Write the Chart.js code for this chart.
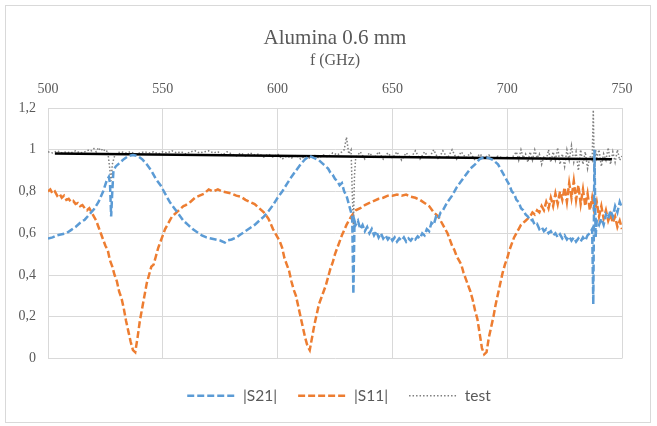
<!DOCTYPE html>
<html>
<head>
<meta charset="utf-8">
<script src="https://cdn.jsdelivr.net/npm/chart.js@4"></script>
<style>
  body { margin: 0; background: #fff; }
  #wrap { position: relative; width: 657px; height: 426px; }
</style>
</head>
<body>
<div id="wrap"><canvas id="sChart"></canvas></div>
<script>
// measured transmission / reflection vs frequency (GHz)
const s21Points = [
  [500,0.575],[502,0.58],[504,0.59],[506,0.595],[508,0.60],[510,0.615],[512,0.63],[514,0.65],[516,0.665],[518,0.69],
  [520,0.715],[522,0.75],[524,0.80],[525.5,0.85],[526.5,0.87],[527,0.84],[527.5,0.68],[528,0.80],[528.5,0.90],[529.5,0.92],
  [531,0.935],[533,0.955],[535,0.97],[537,0.975],[539,0.97],[541,0.955],[543,0.93],[545,0.90],[547,0.86],[549,0.83],
  [551,0.79],[553,0.75],[555,0.72],[557,0.69],[559,0.66],[561,0.64],[563,0.62],[565,0.605],[567,0.59],[569,0.58],
  [571,0.575],[573,0.57],[575,0.565],[577,0.555],[578,0.565],[580,0.57],[582,0.58],[584,0.595],[586,0.61],[588,0.625],
  [590,0.64],[592,0.66],[594,0.68],[596,0.705],[598,0.735],[600,0.77],[602,0.80],[604,0.835],[606,0.87],[608,0.90],
  [610,0.93],[612,0.955],[614,0.97],[616,0.96],[618,0.95],[620,0.93],[622,0.91],[623,0.89],[624,0.88],[625,0.86],
  [626,0.85],[627,0.83],[628,0.84],[629,0.80],[630,0.78],[631,0.74],[632,0.70],[632.5,0.67],[633,0.31],[633.5,0.66],
  [634,0.64],[635,0.66],[636,0.62],[637,0.64],[638,0.61],[639,0.63],[640,0.60],[641,0.62],[642,0.59],[643,0.61],
  [644,0.58],[645,0.60],[646,0.575],[647,0.59],[648,0.57],[649,0.585],[650,0.565],[651,0.58],[652,0.56],[653,0.575],
  [654,0.565],[655,0.58],[656,0.56],[657,0.575],[658,0.565],[659,0.58],[660,0.57],[661,0.585],[662,0.575],[663,0.60],
  [664,0.59],[665,0.62],[666,0.61],[667,0.65],[668,0.64],[669,0.68],[670,0.67],[671,0.70],[672,0.71],[674,0.75],
  [676,0.78],[678,0.82],[680,0.85],[682,0.88],[684,0.91],[686,0.93],[688,0.955],[690,0.965],[692,0.96],[694,0.95],
  [696,0.93],[698,0.89],[700,0.85],[701,0.83],[702,0.80],[703,0.79],[704,0.76],[705,0.75],[706,0.72],[707,0.71],
  [708,0.69],[709,0.68],[710,0.66],[711,0.665],[712,0.64],[713,0.645],[714,0.62],[715,0.63],[716,0.61],[717,0.62],
  [718,0.60],[719,0.61],[720,0.59],[721,0.60],[722,0.58],[723,0.595],[724,0.575],[725,0.59],[726,0.57],[727,0.585],
  [728,0.565],[729,0.58],[730,0.56],[731,0.575],[732,0.56],[733,0.58],[734,0.565],[735,0.59],[736,0.60],[737,0.62],
  [737.5,0.26],[738,1.0],[738.5,0.58],[739,0.66],[740,0.64],[741,0.67],[742,0.64],[743,0.69],[744,0.67],[745,0.71],
  [746,0.68],[747,0.73],[748,0.70],[749,0.75],[750,0.72]
];

const s11Points = [
  [500,0.80],[501,0.81],[502,0.79],[503,0.80],[504,0.78],[505,0.79],[506,0.77],[507,0.78],[508,0.76],[509,0.765],
  [510,0.75],[511,0.755],[512,0.74],[513,0.745],[514,0.73],[515,0.735],[516,0.72],[517,0.71],[518,0.72],[519,0.70],
  [520,0.68],[521,0.66],[522,0.63],[523,0.60],[524,0.57],[525,0.54],[526,0.52],[527,0.47],[528,0.44],[529,0.40],
  [530,0.37],[531,0.32],[532,0.29],[533,0.24],[534,0.18],[535,0.13],[536,0.08],[537,0.04],[538,0.03],[539,0.10],
  [540,0.18],[541,0.24],[542,0.30],[543,0.36],[544,0.40],[545,0.44],[546,0.45],[547,0.49],[548,0.53],[549,0.56],
  [550,0.59],[551,0.62],[552,0.64],[553,0.66],[554,0.68],[555,0.69],[556,0.70],[557,0.71],[558,0.72],[559,0.73],
  [560,0.735],[562,0.75],[564,0.77],[566,0.78],[568,0.79],[570,0.81],[572,0.80],[574,0.81],[576,0.80],[578,0.795],
  [580,0.79],[582,0.78],[584,0.775],[586,0.76],[588,0.75],[590,0.74],[592,0.72],[594,0.70],[596,0.67],[597,0.645],
  [598,0.62],[599,0.60],[600,0.58],[601,0.56],[602,0.53],[603,0.48],[604,0.45],[605,0.42],[606,0.37],[607,0.33],
  [608,0.30],[609,0.25],[610,0.20],[611,0.15],[612,0.10],[613,0.06],[614,0.04],[615,0.10],[616,0.16],[617,0.21],
  [618,0.26],[619,0.29],[620,0.32],[621,0.35],[622,0.39],[623,0.43],[624,0.46],[625,0.50],[626,0.53],[627,0.56],
  [628,0.59],[629,0.615],[630,0.64],[632,0.68],[634,0.71],[636,0.72],[638,0.735],[640,0.745],[642,0.755],[644,0.765],
  [646,0.77],[648,0.78],[650,0.78],[652,0.785],[654,0.78],[656,0.785],[658,0.775],[660,0.77],[662,0.76],[664,0.745],
  [666,0.73],[668,0.70],[670,0.68],[672,0.64],[674,0.60],[676,0.54],[677,0.52],[678,0.49],[679,0.47],[680,0.45],
  [681,0.41],[682,0.38],[683,0.35],[684,0.32],[685,0.28],[686,0.23],[687,0.19],[688,0.12],[689,0.05],[690,0.02],
  [691,0.03],[692,0.10],[693,0.15],[694,0.20],[695,0.26],[696,0.31],[697,0.36],[698,0.41],[699,0.45],[700,0.48],
  [701,0.52],[702,0.55],[703,0.58],[704,0.60],[705,0.62],[706,0.64],[707,0.65],[708,0.66],[709,0.67],[710,0.68],
  [711,0.70],[712,0.69],[713,0.71],[714,0.70],[715,0.73],[716,0.71],[717,0.75],[718,0.72],[719,0.77],[720,0.73],
  [721,0.79],[722,0.74],[723,0.80],[724,0.76],[725,0.82],[726,0.75],[727,0.84],[728,0.77],[729,0.85],[730,0.76],
  [731,0.83],[732,0.74],[733,0.81],[734,0.73],[735,0.79],[736,0.71],[737,0.77],[738,0.70],[739,0.75],[740,0.68],
  [741,0.73],[742,0.67],[743,0.71],[744,0.66],[745,0.69],[746,0.65],[747,0.68],[748,0.63],[749,0.66],[750,0.62]
];

const testPoints = [
  [500,0.99],[502,0.985],[504,0.995],[506,0.985],[508,0.99],[510,0.985],[512,0.995],[514,0.985],[516,0.99],[518,1.0],
  [519,0.995],[520,1.005],[521,0.99],[522,1.01],[523,0.995],[524,1.005],[525,0.99],[526,0.995],[527,0.90],[527.5,0.85],
  [528,0.93],[529,0.97],[530,0.985],[532,0.99],[534,0.985],[536,0.99],[538,0.98],[540,0.985],[542,0.99],[544,0.985],
  [546,0.99],[548,0.98],[550,0.99],[552,0.985],[554,0.995],[556,0.985],[558,0.99],[560,0.98],[562,0.99],[564,0.995],
  [566,0.985],[568,0.99],[570,0.995],[572,0.985],[574,0.99],[576,0.975],[578,0.99],[580,0.98],[582,0.97],[584,0.985],
  [586,0.97],[588,0.985],[590,0.975],[592,0.98],[594,0.965],[596,0.98],[598,0.965],[600,0.98],[602,0.955],[604,0.97],
  [606,0.96],[608,0.975],[610,0.955],[612,0.97],[614,0.96],[616,0.975],[618,0.96],[620,0.975],[622,0.965],[624,0.985],
  [626,0.975],[628,0.99],[629,1.0],[630,1.06],[631,0.98],[632,1.0],[632.5,0.80],[633,0.64],[633.5,0.88],[634,0.96],
  [636,0.99],[638,0.955],[640,0.985],[642,0.96],[644,0.99],[646,0.955],[648,0.985],[650,0.96],[652,0.99],[654,0.95],
  [656,0.985],[658,0.96],[660,0.995],[662,0.955],[664,0.99],[666,0.96],[668,1.0],[670,0.955],[672,0.995],[674,0.96],
  [676,1.0],[678,0.955],[680,0.99],[682,0.96],[684,0.985],[686,0.95],[688,0.98],[690,0.96],[692,0.975],[694,0.955],
  [696,0.97],[698,0.96],[700,0.965],[702,0.96],[704,0.99],[705,0.95],[706,1.0],[707,0.96],[708,0.98],[709,0.94],
  [710,0.99],[711,0.95],[712,1.0],[713,0.96],[714,0.98],[715,0.93],[716,0.97],[717,0.95],[718,1.0],[719,0.94],
  [720,0.99],[721,0.95],[722,1.01],[723,0.93],[724,0.98],[725,0.92],[726,1.0],[727,0.95],[728,1.02],[729,0.94],
  [730,0.99],[731,0.90],[732,1.0],[733,0.93],[734,0.99],[735,0.91],[736,0.97],[737,0.95],[737.5,1.19],[738,0.85],
  [738.5,1.0],[739,0.96],[740,1.0],[741,0.92],[742,0.98],[743,0.95],[744,1.01],[745,0.93],[746,0.99],[747,0.94],
  [748,1.0],[749,0.95],[750,0.97]
];

// linear fit of the test curve, drawn between its two end points
const trendPoints = [[503, 0.982], [745.6, 0.955]];

const xTicks = { min: 500, max: 750, step: 50 };
const yTicks = { min: 0, max: 1.2, step: 0.2 };

const textGrey = '#595959';
const gridGrey = '#d9d9d9';
const serif = 'Liberation Serif';

function toXY(list) {
  return list.map(p => ({ x: p[0], y: p[1] }));
}

// white page with a thin frame around the whole chart
const framePlugin = {
  id: 'frame',
  beforeDraw(chart) {
    const ctx = chart.ctx;
    ctx.save();
    ctx.fillStyle = '#fff';
    ctx.fillRect(0, 0, chart.width, chart.height);
    ctx.strokeStyle = gridGrey;
    ctx.lineWidth = 1;
    ctx.strokeRect(5.5, 5.5, 645, 417);
    ctx.restore();
  }
};

// nudge the legend row to sit centred under the plot
const legendShift = {
  id: 'legendShift',
  afterLayout(chart) {
    const lg = chart.legend;
    lg.left += 4; lg.right += 4;
    lg.top += 8.5; lg.bottom += 8.5;
  }
};

// legend samples take the dash pattern of their line, not of the points
function dashedLabels(chart) {
  const items = Chart.defaults.plugins.legend.labels.generateLabels(chart);
  items.forEach(it => {
    const ds = chart.data.datasets[it.datasetIndex];
    it.lineDash = ds.borderDash || [];
    it.lineWidth = ds.borderWidth;
    it.strokeStyle = ds.borderColor;
  });
  return items;
}

new Chart('sChart', {
  type: 'line',
  data: {
    datasets: [
      {
        label: '|S21|', data: toXY(s21Points), order: 1,
        borderColor: '#5b9bd5', borderWidth: 2.5, borderDash: [7, 3]
      },
      {
        label: '|S11|', data: toXY(s11Points), order: 2,
        borderColor: '#ed7d31', borderWidth: 2.5, borderDash: [7, 3]
      },
      {
        label: 'Linear (test)', data: toXY(trendPoints), order: 3,
        borderColor: '#000', borderWidth: 2.5
      },
      {
        label: 'test', data: toXY(testPoints), order: 4,
        borderColor: '#7f7f7f', borderWidth: 1.5, borderDash: [1.5, 2]
      }
    ]
  },
  options: {
    responsive: true,
    maintainAspectRatio: false,
    animation: false,
    events: [],
    elements: { point: { radius: 0 }, line: { tension: 0, fill: false } },
    layout: { padding: { left: 0, right: 35, top: 0, bottom: 21 } },
    scales: {
      x: {
        type: 'linear', position: 'top',
        min: xTicks.min, max: xTicks.max,
        ticks: { stepSize: xTicks.step, color: textGrey, padding: 10, font: { family: serif, size: 14 } },
        grid: { color: gridGrey, drawTicks: false },
        border: { color: gridGrey },
        title: { display: true, text: 'f (GHz)', color: textGrey, padding: { top: 0, bottom: 0 }, font: { family: serif, size: 16 } },
        afterFit(s) { s.height = 56.8; }
      },
      y: {
        min: yTicks.min, max: yTicks.max,
        ticks: {
          stepSize: yTicks.step, color: textGrey, padding: 12, font: { family: serif, size: 14 },
          callback: v => String(+v.toFixed(1)).replace('.', ',')
        },
        grid: { color: gridGrey, drawTicks: false },
        border: { color: gridGrey },
        afterFit(s) { s.width = 48; }
      }
    },
    plugins: {
      title: {
        display: true, fullSize: false, text: 'Alumina 0.6 mm', color: textGrey,
        font: { family: serif, size: 21, weight: 'normal' },
        padding: { top: 26, bottom: 0 }
      },
      legend: {
        position: 'bottom', fullSize: false,
        labels: {
          usePointStyle: true, pointStyle: 'line', pointStyleWidth: 48,
          padding: 21, color: textGrey, font: { family: 'Lato', size: 15.5 },
          generateLabels: dashedLabels,
          filter: item => item.text !== 'Linear (test)'
        }
      },
      tooltip: { enabled: false }
    }
  },
  plugins: [framePlugin, legendShift]
});
</script>
</body>
</html>
